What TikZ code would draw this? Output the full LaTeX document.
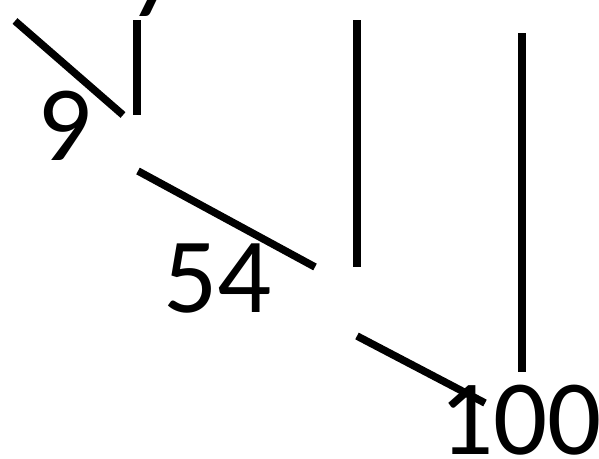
\documentclass[tikz,border=0pt]{standalone}
\usepackage{fontspec}
\setmainfont{Carlito}

\begin{document}
\begin{tikzpicture}[x=1pt,y=-1pt,num/.style = {anchor=base west,inner sep=0pt,font=\fontsize{107}{107}\selectfont},link/.style = {line width=7.5pt}]
\useasboundingbox (0,0) rectangle (599,458);

\node[num] (seven) at (128,16) {7};
\node[num] (nine) at (37,160) {9};
\node[num] (fiftyfour) at (163,312) {54};
\node[num] (hundred) at (439,454) {100};

\coordinate (a) at (15,21);
\coordinate (b) at (123,115);
\coordinate (c) at (137,20);
\coordinate (d) at (137,115);
\coordinate (e) at (138,171);
\coordinate (f) at (315,267);
\coordinate (g) at (357,20);
\coordinate (h) at (357,267);
\coordinate (i) at (357,336);
\coordinate (j) at (485,403);
\coordinate (k) at (522,33);
\coordinate (l) at (522,372);

\draw[link] (a) -- (b);
\draw[link] (c) -- (d);
\draw[link] (e) -- (f);
\draw[link] (g) -- (h);
\draw[link] (i) -- (j);
\draw[link] (k) -- (l);

\end{tikzpicture}
\end{document}
